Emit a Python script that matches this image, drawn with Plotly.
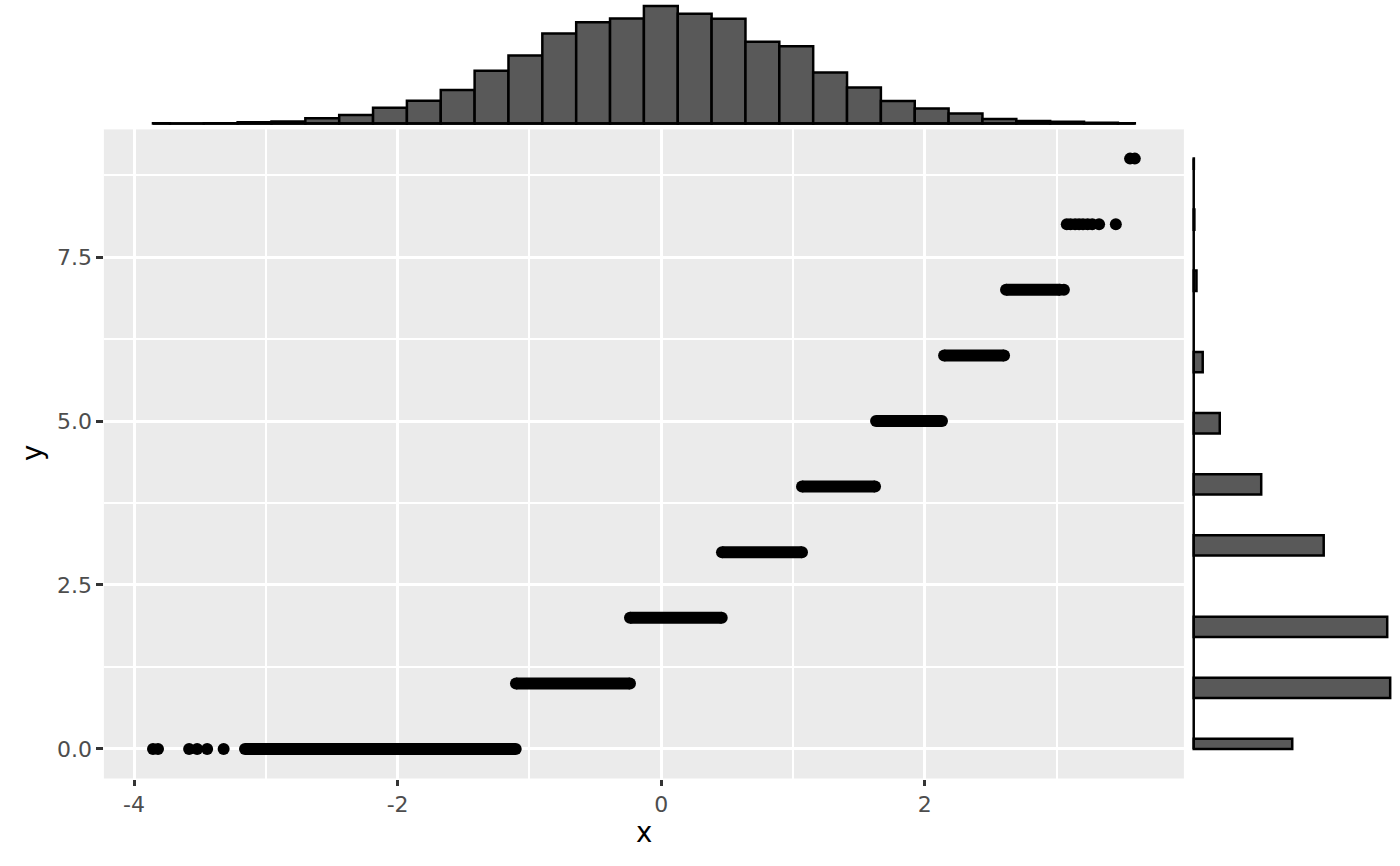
import plotly.graph_objects as go

# ---------------- data ----------------
# dense runs of overlapping points: level (y) and x extent of the run
dense_levels = [0, 1, 2, 3, 4, 5, 6, 7]
dense_start = [-3.158, -1.102, -0.237, 0.461, 1.068, 1.630, 2.146, 2.616]
dense_end = [-1.104, -0.237, 0.459, 1.068, 1.622, 2.130, 2.601, 3.026]

# isolated / sparse points
single_x = [-3.856, -3.818, -3.582, -3.521, -3.445, -3.320,
            3.055,
            3.077, 3.105, 3.140, 3.170, 3.200, 3.235, 3.270, 3.322, 3.449,
            3.557, 3.593]
single_y = [0, 0, 0, 0, 0, 0,
            7,
            8, 8, 8, 8, 8, 8, 8, 8, 8,
            9, 9]

# top marginal histogram of x (30 bins)
x_hist_counts = [2, 1, 3, 12, 17, 45, 75, 138, 199, 292,
                 460, 592, 784, 882, 914, 1025, 957, 912, 713, 674,
                 444, 314, 197, 130, 88, 39, 23, 15, 6, 2]

# right marginal histogram of y
y_levels = [0, 1, 2, 3, 4, 5, 6, 7, 8, 9]
y_counts = [1359, 2710, 2669, 1793, 931, 359, 124, 38, 9, 2]
y_bins = 30

x_tick_vals = [-4, -2, 0, 2]
x_tick_text = ["-4", "-2", "0", "2"]
x_minor_vals = [-3, -1, 1, 3]
y_tick_vals = [0, 2.5, 5, 7.5]
y_tick_text = ["0.0", "2.5", "5.0", "7.5"]
y_minor_vals = [1.25, 3.75, 6.25, 8.75]

# ---------------- derived scales ----------------
all_x = single_x + dense_start + dense_end
xmin, xmax = min(all_x), max(all_x)
xr = xmax - xmin
x_range = [xmin - 0.05 * xr, xmax + 0.05 * xr]
ymin, ymax = min(y_levels), max(y_levels)
yr = ymax - ymin
y_range = [ymin - 0.05 * yr, ymax + 0.05 * yr]

nb = len(x_hist_counts)
bw = xr / (nb - 1)
hx_c, hx_w = [], []
for k in range(nb):
    lo = max(xmin - bw / 2 + k * bw, xmin)
    hi = min(xmin + bw / 2 + k * bw, xmax)
    hx_c.append((lo + hi) / 2)
    hx_w.append(hi - lo)

byw = yr / (y_bins - 1)
hy_c, hy_w = [], []
for v in y_levels:
    idx = round((v - ymin) / byw)
    c = ymin + idx * byw
    lo = max(c - byw / 2, ymin)
    hi = min(c + byw / 2, ymax)
    hy_c.append((lo + hi) / 2)
    hy_w.append(hi - lo)

# ---------------- figure ----------------
W, H = 1400, 866
main_x_dom = [103.9 / W, 1183.9 / W]
main_y_dom = [(H - 778.5) / H, (H - 129.1) / H]
top_y_dom = [(H - 129.4) / H, 1.0]
right_x_dom = [1183.9 / W, 1.0]

FONT = "DejaVu Sans"
fig = go.Figure()

# dense runs drawn as thick segments ending in points
sx, sy = [], []
for lv, a, b in zip(dense_levels, dense_start, dense_end):
    sx += [a, b, None]
    sy += [lv, lv, None]
fig.add_trace(go.Scatter(x=sx, y=sy, mode="lines+markers",
                         line=dict(color="black", width=12),
                         marker=dict(color="black", size=12),
                         xaxis="x", yaxis="y", hoverinfo="skip"))
fig.add_trace(go.Scatter(x=single_x, y=single_y, mode="markers",
                         marker=dict(color="black", size=12),
                         xaxis="x", yaxis="y"))

# top histogram
fig.add_trace(go.Bar(x=hx_c, y=x_hist_counts, width=hx_w,
                     marker=dict(color="#595959", line=dict(color="black", width=2.5)),
                     xaxis="x2", yaxis="y2"))
fig.add_trace(go.Scatter(x=[xmin, xmax], y=[0, 0], mode="lines",
                         line=dict(color="black", width=2.5),
                         xaxis="x2", yaxis="y2"))

# right histogram
fig.add_trace(go.Bar(y=hy_c, x=y_counts, width=hy_w, orientation="h",
                     marker=dict(color="#595959", line=dict(color="black", width=2.5)),
                     xaxis="x3", yaxis="y3"))
fig.add_trace(go.Scatter(x=[0, 0], y=[ymin, ymax], mode="lines",
                         line=dict(color="black", width=2.5),
                         xaxis="x3", yaxis="y3"))

mx = max(x_hist_counts)
my = max(y_counts)

tickfont = dict(family=FONT, size=22, color="#4D4D4D")
fig.update_layout(
    width=W, height=H,
    margin=dict(l=0, r=0, t=0, b=0),
    paper_bgcolor="white", plot_bgcolor="white",
    showlegend=False, barmode="overlay",
    xaxis=dict(domain=main_x_dom, range=x_range, anchor="y",
               tickvals=x_tick_vals, ticktext=x_tick_text,
               showgrid=True, gridcolor="white", gridwidth=2.5,
               minor=dict(tickvals=x_minor_vals, showgrid=True,
                          gridcolor="white", gridwidth=1.8, ticks=""),
               zeroline=False, showline=False,
               ticks="outside", ticklen=6.5, tickwidth=2.5, tickcolor="#333333",
               tickfont=tickfont),
    yaxis=dict(domain=main_y_dom, range=y_range, anchor="x",
               tickvals=y_tick_vals, ticktext=y_tick_text,
               showgrid=True, gridcolor="white", gridwidth=2.5,
               minor=dict(tickvals=y_minor_vals, showgrid=True,
                          gridcolor="white", gridwidth=1.8, ticks=""),
               zeroline=False, showline=False,
               ticks="outside", ticklen=6.5, tickwidth=2.5, tickcolor="#333333",
               tickfont=tickfont),
    xaxis2=dict(domain=main_x_dom, range=x_range, anchor="y2", visible=False),
    yaxis2=dict(domain=top_y_dom, range=[-0.05 * mx, 1.05 * mx], anchor="x2",
                visible=False),
    xaxis3=dict(domain=right_x_dom, range=[-0.05 * my, 1.05 * my], anchor="y3",
                visible=False),
    yaxis3=dict(domain=main_y_dom, range=y_range, anchor="x3", visible=False),
    shapes=[dict(type="rect", xref="x domain", yref="y domain",
                 x0=0, x1=1, y0=0, y1=1, fillcolor="#EBEBEB",
                 line=dict(width=0), layer="below")],
    annotations=[
        dict(text="x", xref="paper", yref="paper",
             x=(main_x_dom[0] + main_x_dom[1]) / 2, y=(H - 832) / H,
             xanchor="center", yanchor="middle", showarrow=False,
             font=dict(family=FONT, size=27.5, color="black")),
        dict(text="y", xref="paper", yref="paper",
             x=32 / W, y=(H - 453) / H, textangle=-90,
             xanchor="center", yanchor="middle", showarrow=False,
             font=dict(family=FONT, size=27.5, color="black")),
    ],
)

fig.write_html("out.html",
               config={"displayModeBar": False},
               post_script="document.body.style.margin='0';document.body.style.padding='0';")
